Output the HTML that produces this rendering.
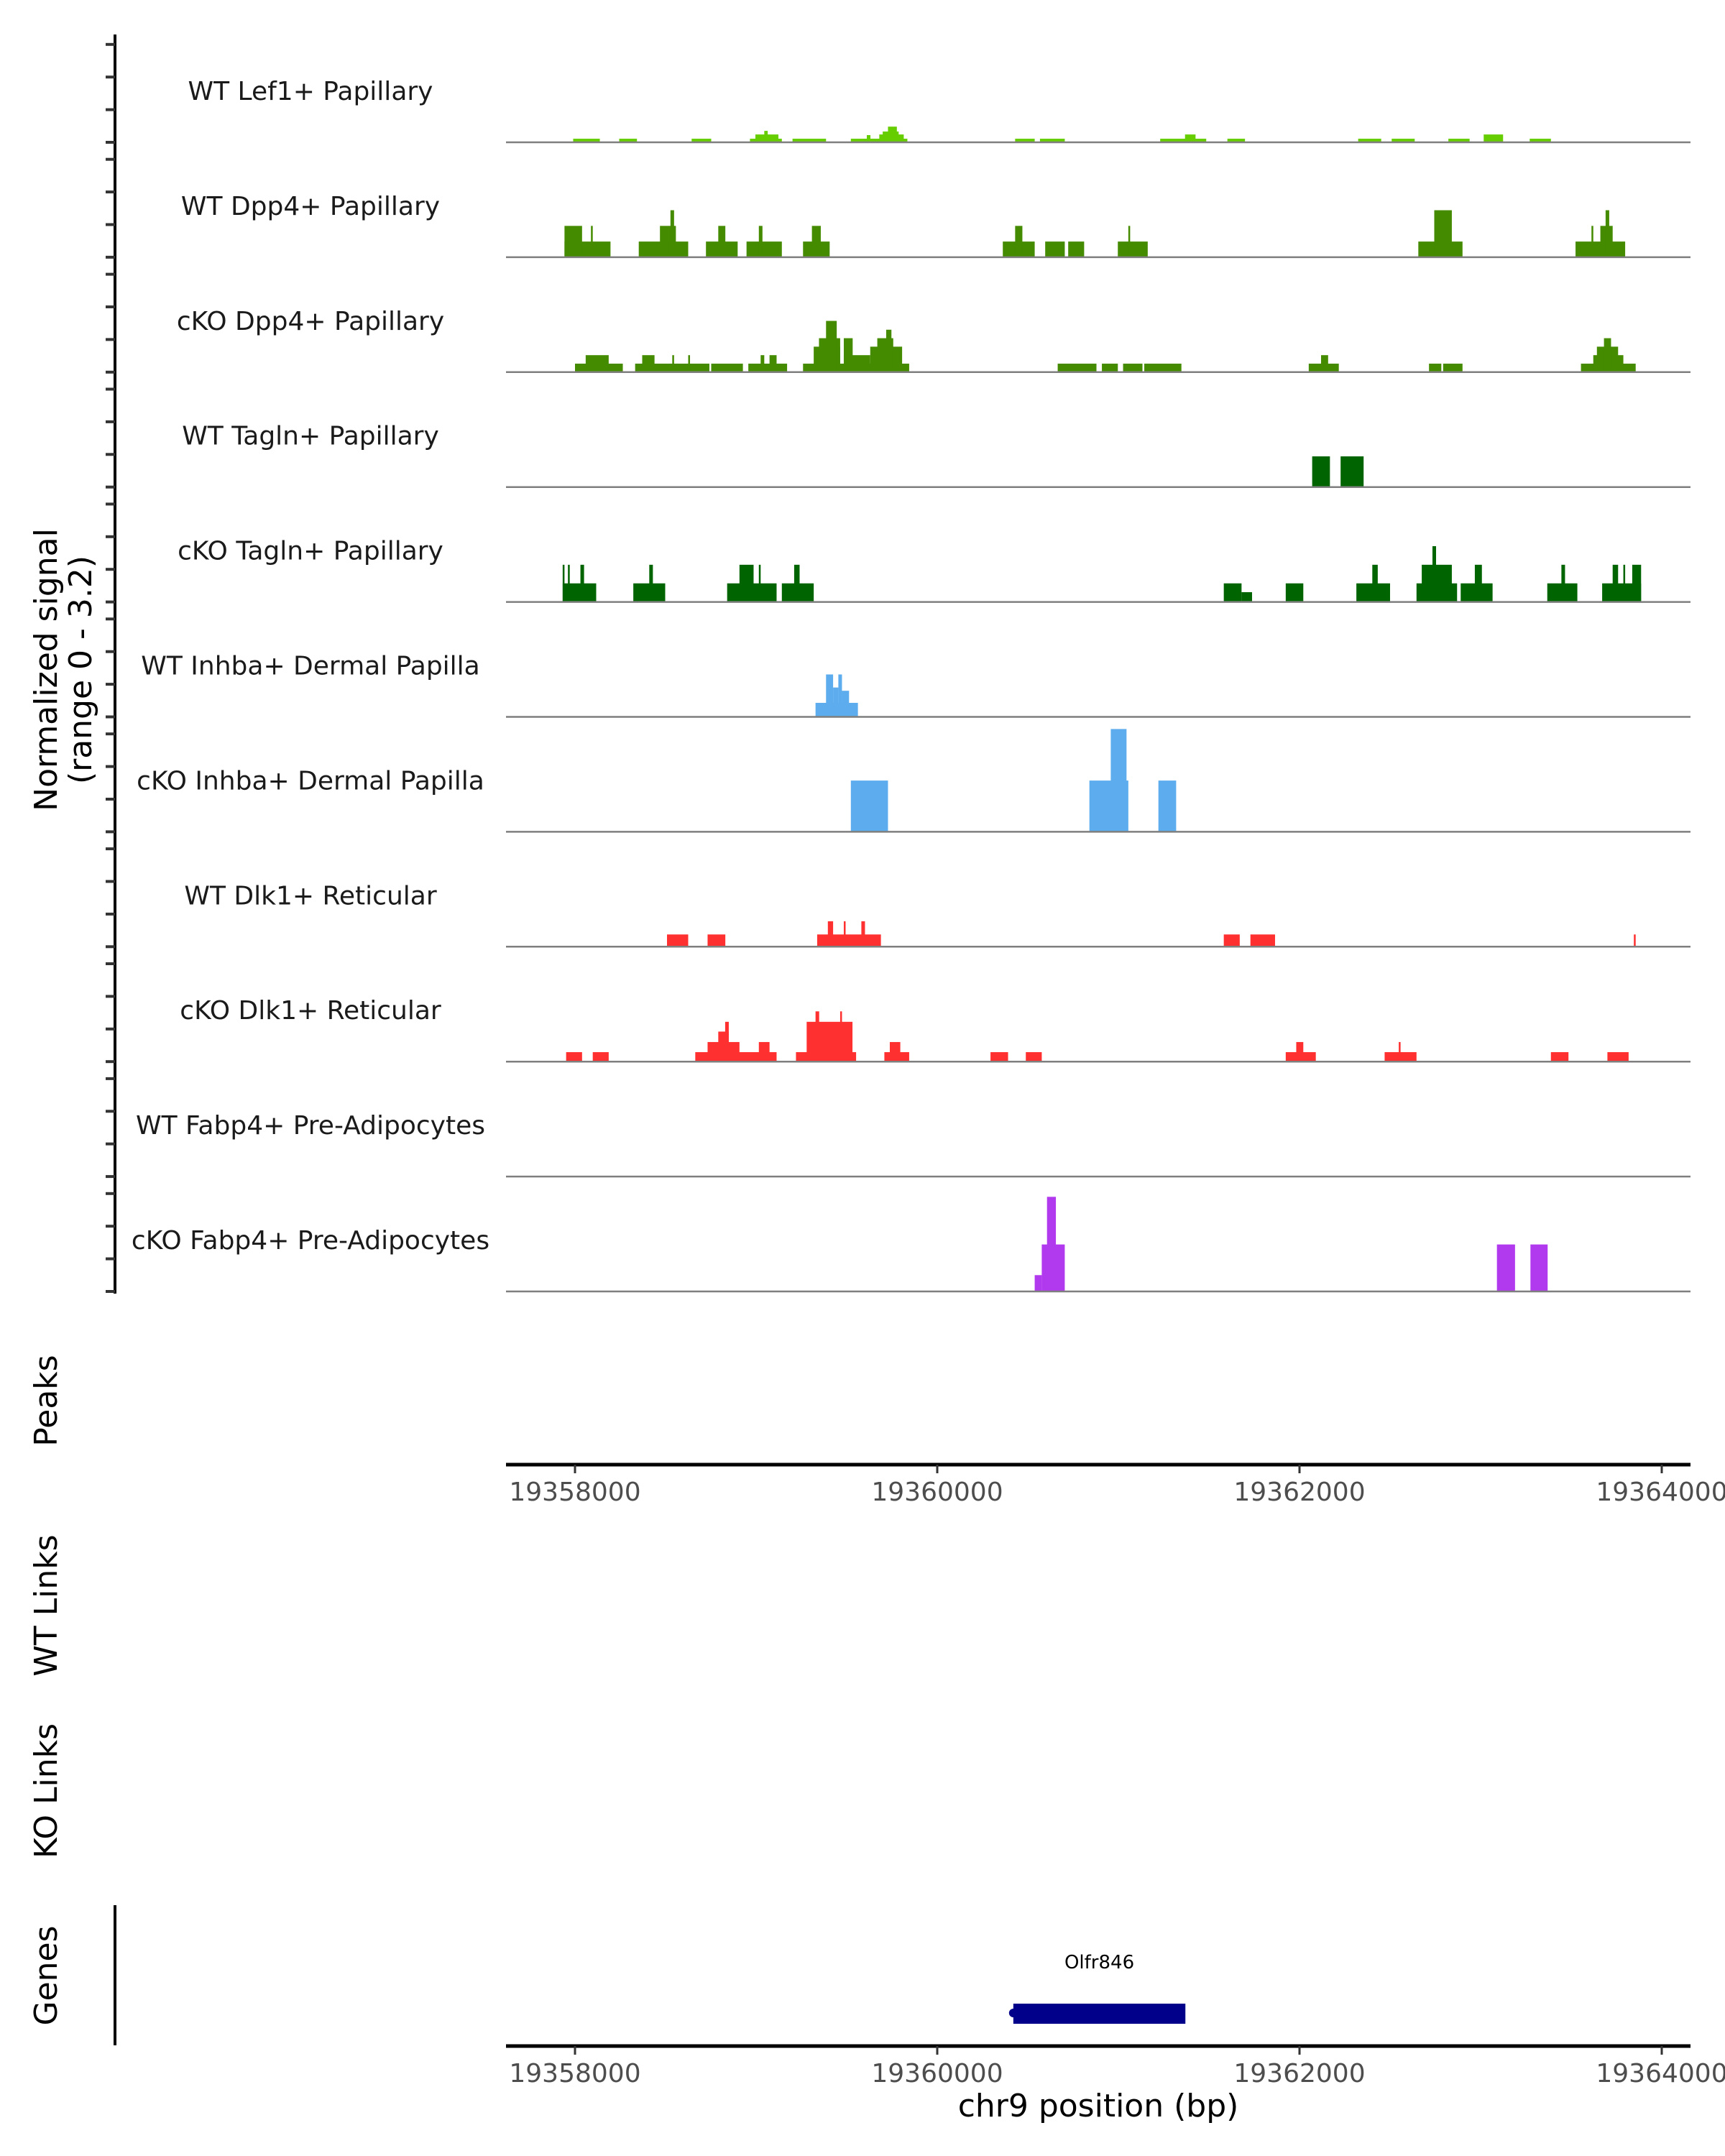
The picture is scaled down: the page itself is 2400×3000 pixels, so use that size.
<!DOCTYPE html>
<html><head><meta charset="utf-8"><title>Genome coverage tracks around Olfr846 on chr9</title>
<style>html,body{margin:0;padding:0;background:#fff}svg{display:block}text{font-family:"DejaVu Sans","Liberation Sans",sans-serif}</style>
</head><body>
<svg id="chart" width="2400" height="3000" viewBox="0 0 2400 3000" xmlns="http://www.w3.org/2000/svg">
<g id="tracks"></g>
<line x1="160" y1="48" x2="160" y2="1800" stroke="#000" stroke-width="4"/>
<g id="yticks"></g>
<text transform="translate(79,932) rotate(-90)" text-anchor="middle" font-size="44" fill="#000">Normalized signal</text>
<text transform="translate(127,932) rotate(-90)" text-anchor="middle" font-size="44" fill="#000">(range 0 - 3.2)</text>
<text transform="translate(79,1949) rotate(-90)" text-anchor="middle" font-size="44" fill="#000">Peaks</text>
<text transform="translate(79,2234) rotate(-90)" text-anchor="middle" font-size="44" fill="#000">WT Links</text>
<text transform="translate(79,2492) rotate(-90)" text-anchor="middle" font-size="44" fill="#000">KO Links</text>
<text transform="translate(79,2749) rotate(-90)" text-anchor="middle" font-size="44" fill="#000">Genes</text>
<line x1="160" y1="2651" x2="160" y2="2846" stroke="#000" stroke-width="4"/>
<g id="xaxis1"></g>
<g id="xaxis2"></g>
<g id="genes"></g>
<text x="1528" y="2945" text-anchor="middle" font-size="44" fill="#000">chr9 position (bp)</text>
</svg>
<script>
// ---- data ----
const trackNames = ["WT Lef1+ Papillary","WT Dpp4+ Papillary","cKO Dpp4+ Papillary","WT Tagln+ Papillary","cKO Tagln+ Papillary","WT Inhba+ Dermal Papilla","cKO Inhba+ Dermal Papilla","WT Dlk1+ Reticular","cKO Dlk1+ Reticular","WT Fabp4+ Pre-Adipocytes","cKO Fabp4+ Pre-Adipocytes"];
const trackColors = ["#66CD00","#458B00","#458B00","#006400","#006400","#5CACEE","#5CACEE","#FF3030","#FF3030","#B23AEE","#B23AEE"];
// [start bp, end bp, signal]
const lef1WT = [[19357990,19358137,0.11],[19358244,19358342,0.11],[19358644,19358752,0.11],[19358966,19359142,0.11],[19358996,19359123,0.24],[19359045,19359064,0.35],[19359201,19359386,0.11],[19359523,19359835,0.11],[19359611,19359631,0.22],[19359680,19359815,0.24],[19359699,19359787,0.33],[19359728,19359777,0.48],[19360430,19360538,0.11],[19360567,19360704,0.11],[19361231,19361485,0.11],[19361368,19361426,0.24],[19361602,19361699,0.11],[19362324,19362451,0.11],[19362509,19362636,0.11],[19362822,19362939,0.11],[19363017,19363124,0.24],[19363271,19363388,0.11]];
const dpp4WT = [[19357942,19358196,0.48],[19357942,19358039,0.96],[19358088,19358098,0.96],[19358352,19358625,0.48],[19358469,19358519,0.96],[19358527,19358547,1.44],[19358518,19358557,0.96],[19358723,19358898,0.48],[19358791,19358830,0.96],[19358947,19359142,0.48],[19359015,19359035,0.96],[19359259,19359406,0.48],[19359308,19359357,0.96],[19360362,19360538,0.48],[19360430,19360470,0.96],[19360596,19360704,0.48],[19360723,19360811,0.48],[19360997,19361162,0.48],[19361055,19361065,0.96],[19362656,19362900,0.48],[19362744,19362841,1.44],[19363524,19363798,0.48],[19363612,19363622,0.96],[19363661,19363729,0.96],[19363690,19363710,1.44]];
const dpp4KO = [[19358000,19358264,0.26],[19358059,19358186,0.52],[19358332,19358742,0.26],[19358371,19358439,0.52],[19358537,19358547,0.52],[19358625,19358635,0.52],[19358752,19358927,0.26],[19358957,19359171,0.26],[19359025,19359045,0.52],[19359074,19359113,0.52],[19359259,19359845,0.26],[19359318,19359464,0.78],[19359347,19359464,1.04],[19359386,19359445,1.57],[19359484,19359630,0.52],[19359484,19359533,1.04],[19359630,19359806,0.78],[19359669,19359757,1.04],[19359718,19359747,1.3],[19360665,19360879,0.26],[19360909,19360997,0.26],[19361026,19361133,0.26],[19361143,19361348,0.26],[19362051,19362217,0.26],[19362119,19362158,0.52],[19362715,19362783,0.26],[19362793,19362900,0.26],[19363554,19363856,0.26],[19363622,19363788,0.52],[19363642,19363759,0.78],[19363681,19363720,1.04]];
const taglnWT = [[19362070,19362168,0.94],[19362227,19362354,0.94]];
const taglnKO = [[19357932,19358117,0.57],[19357932,19357942,1.14],[19357961,19357971,1.14],[19358030,19358050,1.14],[19358322,19358498,0.57],[19358410,19358430,1.14],[19358840,19359113,0.57],[19358908,19358986,1.14],[19359015,19359025,1.14],[19359142,19359318,0.57],[19359210,19359240,1.14],[19361582,19361680,0.57],[19361680,19361738,0.3],[19361924,19362021,0.57],[19362314,19362500,0.57],[19362402,19362432,1.14],[19362646,19362870,0.57],[19362675,19362841,1.14],[19362734,19362754,1.71],[19362890,19363066,0.57],[19362968,19363007,1.14],[19363368,19363534,0.57],[19363446,19363466,1.14],[19363671,19363886,0.57],[19363729,19363759,1.14],[19363788,19363798,1.14],[19363837,19363886,1.14]];
const inhbaWT = [[19359328,19359562,0.43],[19359386,19359425,1.3],[19359425,19359454,0.9],[19359454,19359474,1.3],[19359473,19359513,0.8]];
const inhbaKO = [[19359523,19359728,1.57],[19360840,19361055,1.57],[19360958,19361045,3.15],[19361221,19361319,1.57]];
const dlk1WT = [[19358508,19358625,0.375],[19358732,19358830,0.375],[19359337,19359689,0.375],[19359396,19359425,0.78],[19359484,19359494,0.78],[19359581,19359601,0.78],[19361582,19361670,0.375],[19361729,19361865,0.375],[19363846,19363856,0.375]];
const dlk1KO = [[19357951,19358039,0.29],[19358098,19358186,0.29],[19358664,19359113,0.29],[19358732,19358908,0.6],[19358791,19358849,0.92],[19358829,19358849,1.22],[19359015,19359074,0.6],[19359220,19359552,0.29],[19359279,19359532,1.22],[19359328,19359348,1.54],[19359464,19359474,1.54],[19359708,19359845,0.29],[19359738,19359796,0.6],[19360294,19360391,0.29],[19360489,19360577,0.29],[19361924,19362090,0.29],[19361982,19362021,0.6],[19362470,19362646,0.29],[19362548,19362558,0.6],[19363388,19363485,0.29],[19363700,19363817,0.29]];
const fabp4WT = [];
const fabp4KO = [[19360538,19360577,0.5],[19360577,19360704,1.44],[19360606,19360655,2.9],[19363090,19363190,1.44],[19363275,19363370,1.44]];
const trackData = [lef1WT,dpp4WT,dpp4KO,taglnWT,taglnKO,inhbaWT,inhbaKO,dlk1WT,dlk1KO,fabp4WT,fabp4KO];
const yTicks = [0,1,2,3];
const xTicks = [19358000,19360000,19362000,19364000];
const geneNames = ["Olfr846"];
const geneStarts = [19360420];
const geneEnds = [19361370];

// ---- scales ----
const NS = "http://www.w3.org/2000/svg";
const X0 = 704, X1 = 2352;
function xScale(bp){ return 800 + (bp - 19358000) / 2000 * 504; }
const TRACK0 = 198, TRACKSTEP = 159.9, UNIT = 45.4;
function baseline(i){ return TRACK0 + i * TRACKSTEP; }
function yScale(i, v){ return baseline(i) - v * UNIT; }
function mk(tag, attrs, parent){ const e = document.createElementNS(NS, tag); for (const k in attrs) e.setAttribute(k, attrs[k]); parent.appendChild(e); return e; }

const tracksG = document.getElementById('tracks');
trackNames.forEach((name, i) => {
  const g = mk('g', {}, tracksG);
  
  
  trackData[i].forEach(s => {
    const x1 = xScale(s[0]), x2 = xScale(s[1]);
    const r = mk('rect', {x: x1, y: yScale(i, s[2]), width: Math.max(2, x2 - x1), height: s[2] * UNIT, fill: trackColors[i]}, g);
    
    
  });
  const bl = mk('line', {x1: X0, x2: X1, y1: baseline(i), y2: baseline(i), stroke: '#7f7f7f', 'stroke-width': 2.5}, g);
  
  
  const t = mk('text', {x: 432, y: baseline(i) - 59, 'text-anchor': 'middle', 'font-size': 36, fill: '#1a1a1a'}, g);
  t.textContent = name;
  
  
  yTicks.forEach(v => {
    const tk = mk('line', {x1: 147, x2: 160, y1: yScale(i, v), y2: yScale(i, v), stroke: '#333', 'stroke-width': 4}, document.getElementById('yticks'));
    
    
  });
});

function drawXAxis(id, y){
  const g = document.getElementById(id);
  const l = mk('line', {x1: X0, x2: X1, y1: y, y2: y, stroke: '#000', 'stroke-width': 5}, g);
  
  
  xTicks.forEach(v => {
    const tk = mk('line', {x1: xScale(v), x2: xScale(v), y1: y, y2: y + 12, stroke: '#333', 'stroke-width': 3}, g);
    
    
    const t = mk('text', {x: xScale(v), y: y + 50, 'text-anchor': 'middle', 'font-size': 36, fill: '#4d4d4d'}, g);
    t.textContent = String(v);
    
    
  });
}
drawXAxis('xaxis1', 2038);
drawXAxis('xaxis2', 2847);

const gg = document.getElementById('genes');
geneNames.forEach((n, i) => {
  const x1 = xScale(geneStarts[i]), x2 = xScale(geneEnds[i]);
  const r = mk('rect', {x: x1, y: 2788, width: x2 - x1, height: 28, fill: '#00008B'}, gg);
  
  
  const c = mk('circle', {cx: x1, cy: 2801, r: 6, fill: '#00008B'}, gg);
  
  
  const t = mk('text', {x: (x1 + x2) / 2, y: 2739, 'text-anchor': 'middle', 'font-size': 26, fill: '#000'}, gg);
  t.textContent = n;
  
  
});
</script>
</body></html>
